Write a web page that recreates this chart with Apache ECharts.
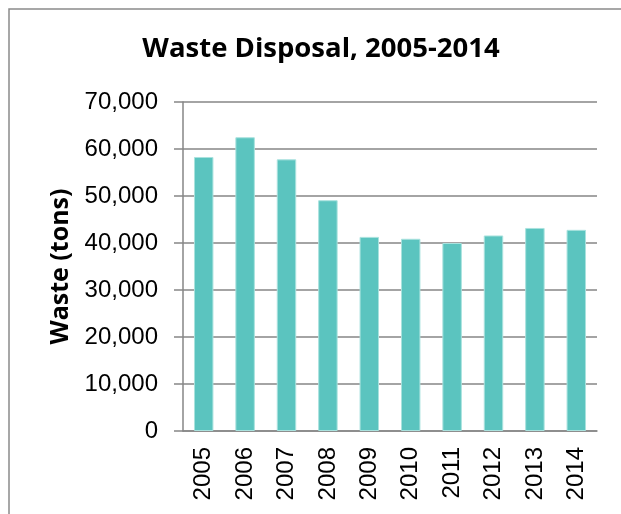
<!DOCTYPE html>
<html><head><meta charset="utf-8">
<script src="https://cdn.jsdelivr.net/npm/echarts@6/dist/echarts.min.js"></script>
<style>html,body{margin:0;padding:0;background:#fff}#c{width:621px;height:514px}</style>
</head><body><div id="c"></div>
<script>
const categories = ['2005','2006','2007','2008','2009','2010','2011','2012','2013','2014'];
const wasteTons = [58300, 62500, 57800, 49100, 41300, 40900, 40000, 41600, 43200, 42800];
const yTicks = [0, 10000, 20000, 30000, 40000, 50000, 60000, 70000];

const chart = echarts.init(document.getElementById('c'), null, {renderer:'canvas'});
const fmt = v => v.toLocaleString('en-US');
chart.setOption({
  animation:false,
  backgroundColor:'#fff',
  graphic:[{type:'rect', shape:{x:9, y:9, width:640, height:540}, style:{fill:'none', stroke:'#8a8a8a', lineWidth:1.5}}],
  title:{text:'Waste Disposal, 2005-2014', left:316, textAlign:'center', top:30,
    textStyle:{fontFamily:'Open Sans', fontWeight:'bold', fontSize:27.5, color:'#000'}},
  grid:{left:183, right:24, top:102, bottom:83},
  xAxis:{type:'category', data:categories,
    axisLine:{lineStyle:{color:'#868686', width:1.5}},
    axisTick:{show:false},
    axisLabel:{rotate:90, fontFamily:'Liberation Sans', fontSize:24, color:'#000', margin:16}},
  yAxis:{type:'value', min:yTicks[0], max:yTicks[yTicks.length-1], interval:10000,
    name:'Waste (tons)', nameLocation:'middle', nameGap:106,
    nameTextStyle:{fontFamily:'Open Sans', fontWeight:'bold', fontSize:25, color:'#000'},
    axisLine:{show:true, lineStyle:{color:'#868686', width:1.5}},
    axisTick:{show:true, length:9, lineStyle:{color:'#868686', width:1.5}},
    splitLine:{lineStyle:{color:'#868686', width:1.5}},
    axisLabel:{formatter:fmt, fontFamily:'Liberation Sans', fontSize:24, color:'#000', margin:25}},
  series:[{type:'bar', data:wasteTons, barWidth:'47%',
    itemStyle:{color:'#5BC4BF', borderColor:'#A9E2DE', borderWidth:1}}]
});
</script></body></html>
